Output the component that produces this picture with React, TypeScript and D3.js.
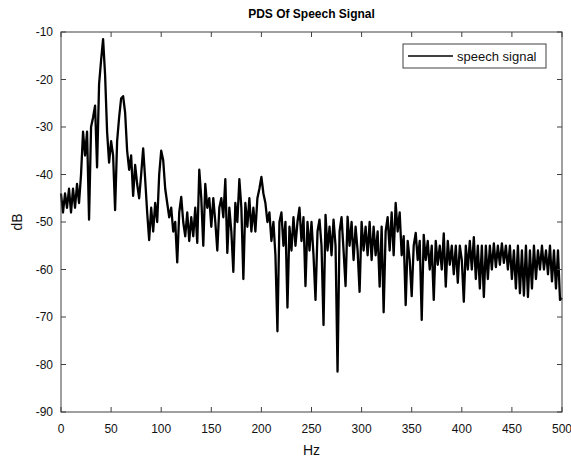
import React from "react";
import * as d3 from "d3";

const W = 571;
const H = 459;
const margin = { left: 61, right: 9, top: 32, bottom: 47 };

const title = "PDS Of Speech Signal";
const xLabel = "Hz";
const yLabel = "dB";
const legendLabel = "speech signal";

const xTicks = [0, 50, 100, 150, 200, 250, 300, 350, 400, 450, 500];
const yTicks = [-90, -80, -70, -60, -50, -40, -30, -20, -10];

const binStep = 2;
const db0to48 = [-44, -48, -44, -47, -43, -48, -43, -47, -42, -46, -40, -31, -36, -31, -49.5, -30, -28, -25.5, -38.5, -21, -16, -11.5, -19, -31, -37.5];
const db50to98 = [-33, -36, -47.5, -33, -28, -24, -23.5, -27, -35, -39, -36, -44.5, -38, -42, -45, -40, -34.5, -41, -48, -53.8, -47, -52, -46, -50, -40];
const db100to148 = [-35, -37, -43, -46, -49, -47, -52, -50, -58.5, -48, -44.7, -50, -53, -48, -54, -49, -53, -47, -54.4, -39, -45, -55, -42, -47, -45];
const db150to198 = [-51, -45, -50, -56, -47, -45, -49, -41, -56.5, -47, -52, -60.5, -46, -50, -41, -47, -62, -46, -51, -45, -52, -47, -52, -45, -43];
const db200to248 = [-40.5, -44, -46, -50, -48, -54, -50, -57, -73, -50, -48, -55, -50, -68, -51, -56, -49, -55, -50, -47, -54, -49, -63.5, -50, -56];
const db250to298 = [-50, -57, -66.4, -52, -49.5, -55, -71.7, -48.5, -56, -51, -57, -49.5, -55, -81.5, -52, -49, -56, -63.5, -48.9, -55, -50, -58, -51, -56, -64.7];
const db300to348 = [-50, -56, -51, -57, -50, -58, -51, -57, -52, -63.6, -51, -69, -52, -49, -56, -48, -57, -46, -52, -48, -57, -53, -67.5, -54, -58];
const db350to398 = [-65.6, -55, -52.3, -58, -54, -70.6, -52.7, -58, -54, -60, -55, -66.4, -54, -59, -55, -60, -52.4, -63.6, -54, -59, -55, -61, -55, -62.8, -55];
const db400to448 = [-58, -66.8, -55, -60, -54, -60, -53.2, -62, -55, -64, -55, -65.8, -55, -62, -55, -60, -54.5, -59.5, -55, -59, -54.5, -58.6, -55, -60, -55];
const db450to500 = [-62, -56, -64, -55, -65, -56, -65.5, -55, -65.8, -56, -64, -55, -62, -56, -60, -55, -60, -56, -61, -55, -62.5, -56, -64, -56, -66.4, -66];

const dbValues = [
  ...db0to48, ...db50to98, ...db100to148, ...db150to198, ...db200to248,
  ...db250to298, ...db300to348, ...db350to398, ...db400to448, ...db450to500,
];

const font = "'Liberation Sans', Arial, Helvetica, sans-serif";
const axisColor = "#404040";

export default function App() {
  const x = d3.scaleLinear().domain([0, 500]).range([margin.left, W - margin.right]);
  const y = d3.scaleLinear().domain([-90, -10]).range([H - margin.bottom, margin.top]);

  const line = d3
    .line<number>()
    .x((_, i) => x(i * binStep))
    .y((d) => y(d));

  const x0 = x.range()[0];
  const x1 = x.range()[1];
  const y0 = y.range()[0];
  const y1 = y.range()[1];
  const tick = 5;

  return (
    <svg width={W} height={H} style={{ position: "absolute", left: 0, top: 0, background: "#fff" }} fontFamily={font}>
      <rect x={0} y={0} width={W} height={H} fill="#fff" />

      <path d={line(dbValues) || ""} fill="none" stroke="#000" strokeWidth={2.3} strokeLinejoin="round" />

      {/* box */}
      <rect x={x0} y={y1} width={x1 - x0} height={y0 - y1} fill="none" stroke={axisColor} strokeWidth={1} />

      {xTicks.map((t) => (
        <g key={"x" + t}>
          <line x1={x(t)} x2={x(t)} y1={y0} y2={y0 - tick} stroke={axisColor} />
          <line x1={x(t)} x2={x(t)} y1={y1} y2={y1 + tick} stroke={axisColor} />
          <text x={x(t)} y={y0 + 21} textAnchor="middle" fontSize={12} fill="#111">
            {t}
          </text>
        </g>
      ))}

      {yTicks.map((t) => (
        <g key={"y" + t}>
          <line x1={x0} x2={x0 + tick} y1={y(t)} y2={y(t)} stroke={axisColor} />
          <line x1={x1} x2={x1 - tick} y1={y(t)} y2={y(t)} stroke={axisColor} />
          <text x={x0 - 8} y={y(t) + 4} textAnchor="end" fontSize={12} fill="#111">
            {t}
          </text>
        </g>
      ))}

      <text x={(x0 + x1) / 2} y={18} textAnchor="middle" fontSize={12} fontWeight="bold" fill="#000">
        {title}
      </text>
      <text x={(x0 + x1) / 2} y={455} textAnchor="middle" fontSize={14} fill="#111">
        {xLabel}
      </text>
      <text transform={`translate(22,${(y0 + y1) / 2}) rotate(-90)`} textAnchor="middle" fontSize={14} fill="#111">
        {yLabel}
      </text>

      {/* legend */}
      <g transform="translate(403,44)">
        <rect x={0} y={0} width={143} height={24} fill="#fff" stroke={axisColor} strokeWidth={1} />
        <line x1={5} x2={50} y1={12} y2={12} stroke="#000" strokeWidth={1.6} />
        <text x={54} y={16.5} fontSize={13} fill="#111">
          {legendLabel}
        </text>
      </g>
    </svg>
  );
}
